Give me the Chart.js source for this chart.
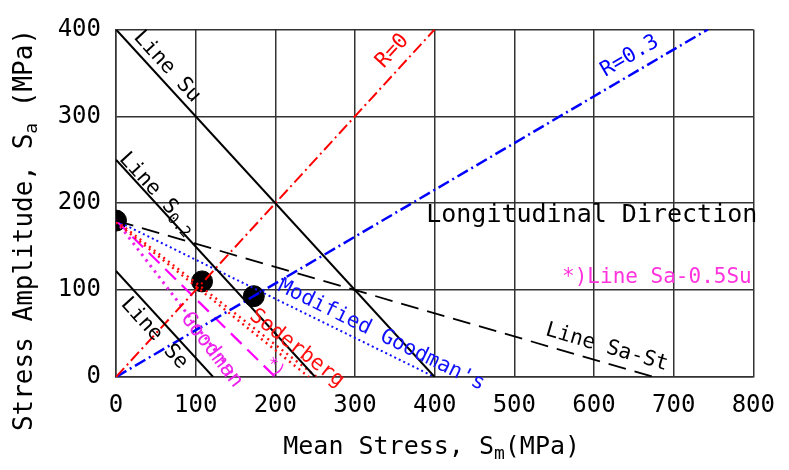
<!DOCTYPE html>
<html>
<head>
<meta charset="utf-8">
<script src="https://cdn.jsdelivr.net/npm/chart.js@4/dist/chart.umd.min.js"></script>
<style>
    html, body { margin: 0; padding: 0; background: #fff; }
</style>
</head>
<body>
<canvas id="goodmanChart" width="789" height="470"></canvas>
<script>
// Mean stress Sm (x) / stress amplitude Sa (y), MPa
const xTicks = [0, 100, 200, 300, 400, 500, 600, 700, 800];
const yTicks = [0, 100, 200, 300, 400];

const lineSu = [{ x: 0, y: 400 }, { x: 400, y: 0 }];
const lineS02 = [{ x: 0, y: 250 }, { x: 250, y: 0 }];
const lineSe = [{ x: 0, y: 122 }, { x: 122, y: 0 }];
const lineR0 = [{ x: 0, y: 0 }, { x: 400, y: 400 }];
const lineR03 = [{ x: 0, y: 0 }, { x: 743, y: 400 }];
const lineSaSt = [{ x: 0, y: 180 }, { x: 675, y: 0 }];
const modGoodman = [{ x: 0, y: 180 }, { x: 400, y: 0 }];
const soderberg = [{ x: 0, y: 180 }, { x: 252, y: 0 }];
const soderberg2 = [{ x: 0, y: 178 }, { x: 242, y: 0 }];
const goodman = [{ x: 0, y: 180 }, { x: 150, y: 0 }];
const lineHalfSu = [{ x: 0, y: 180 }, { x: 200, y: 0 }];
const testPoints = [{ x: 0, y: 180 }, { x: 108, y: 110 }, { x: 173, y: 93 }];

const MONO = '"DejaVu Sans Mono", "Liberation Mono", monospace';

// labels along the lines: text parts, centre in data units, line they follow
const lineLabels = [
    { parts: [['Line Su']], x: 64, y: 357, along: lineSu, color: '#000', size: 21 },
    { parts: [['Line S'], ['0.2', true]], x: 52, y: 211, along: lineS02, color: '#000', size: 21 },
    { parts: [['Line Se']], x: 48, y: 50, along: lineSe, color: '#000', size: 21 },
    { parts: [['R=0']], x: 347, y: 375, along: lineR0, color: '#ff0000', size: 21 },
    { parts: [['R=0.3']], x: 645, y: 369, along: lineR03, color: '#0000ff', size: 21 },
    { parts: [["Modified Goodman's"]], x: 333, y: 48, along: modGoodman, color: '#1010ff', size: 21 },
    { parts: [['Soderberg']], x: 227, y: 33, along: soderberg, color: '#ff1010', size: 21 },
    { parts: [['Goodman']], x: 120, y: 31, along: goodman, color: '#ee22ee', size: 21 },
    { parts: [['*)']], x: 199, y: 11, along: lineHalfSu, color: '#ff22ee', size: 17 },
    { parts: [['Line Sa-St']], x: 616, y: 34, along: lineSaSt, color: '#000', size: 21 }
];

function drawParts(ctx, parts, size, align) {
    const widths = parts.map(([t, sub]) => {
        ctx.font = (sub ? Math.round(size * 0.7) : size) + 'px ' + MONO;
        return ctx.measureText(t).width;
    });
    const total = widths.reduce((a, b) => a + b, 0);
    let cx = align === 'right' ? -total : -total / 2;
    parts.forEach(([t, sub], i) => {
        ctx.font = (sub ? Math.round(size * 0.7) : size) + 'px ' + MONO;
        ctx.fillText(t, cx, sub ? size * 0.3 : 0);
        cx += widths[i];
    });
}

const textPlugin = {
    id: 'textPlugin',
    afterDatasetsDraw(chart) {
        const { ctx, scales: { x, y } } = chart;
        ctx.save();
        ctx.textBaseline = 'middle';
        ctx.textAlign = 'left';
        lineLabels.forEach(l => {
            const a = l.along;
            const ang = Math.atan2(y.getPixelForValue(a[1].y) - y.getPixelForValue(a[0].y),
                                   x.getPixelForValue(a[1].x) - x.getPixelForValue(a[0].x));
            ctx.save();
            ctx.translate(x.getPixelForValue(l.x), y.getPixelForValue(l.y));
            ctx.rotate(ang);
            ctx.fillStyle = l.color;
            drawParts(ctx, l.parts, l.size, 'center');
            ctx.restore();
        });

        // plain horizontal notes
        ctx.save();
        ctx.fillStyle = '#000';
        ctx.translate(x.getPixelForValue(805), y.getPixelForValue(186));
        drawParts(ctx, [['Longitudinal Direction']], 25, 'right');
        ctx.restore();
        ctx.save();
        ctx.fillStyle = '#ff33dd';
        ctx.translate(x.getPixelForValue(798), y.getPixelForValue(114));
        drawParts(ctx, [['*)Line Sa-0.5Su']], 21, 'right');
        ctx.restore();

        // axis titles
        ctx.fillStyle = '#000';
        ctx.save();
        ctx.translate((x.left + x.right) / 2 - 3, 447);
        drawParts(ctx, [['Mean Stress, S'], ['m', true], ['(MPa)']], 25, 'center');
        ctx.restore();
        ctx.save();
        ctx.translate(25, 230);
        ctx.rotate(-Math.PI / 2);
        drawParts(ctx, [['Stress Amplitude, S'], ['a', true], [' (MPa)']], 26, 'center');
        ctx.restore();
        ctx.restore();
    }
};

function lineSet(data, color, width, dash) {
    return {
        data: data,
        showLine: true,
        borderColor: color,
        borderWidth: width,
        borderDash: dash,
        pointRadius: 0,
        fill: false
    };
}

const ctx = document.getElementById('goodmanChart').getContext('2d');

new Chart(ctx, {
    type: 'scatter',
    data: {
        datasets: [
            lineSet(lineSu, '#000', 2, []),
            lineSet(lineS02, '#000', 2, []),
            lineSet(lineSe, '#000', 2, []),
            lineSet(lineR0, '#ff0000', 2, [12, 4, 2, 4]),
            lineSet(lineR03, '#0000ff', 2.5, [12, 4, 2, 4]),
            lineSet(lineSaSt, '#000', 1.8, [18, 9]),
            lineSet(modGoodman, '#1010ff', 2, [2, 3]),
            lineSet(soderberg, '#ff1010', 2.4, [2, 4]),
            lineSet(soderberg2, '#ff1010', 2.4, [2, 4]),
            lineSet(goodman, '#ee22ee', 3, [2.5, 4.5]),
            lineSet(lineHalfSu, '#ff00ff', 2.2, [15, 8]),
            {
                data: testPoints,
                backgroundColor: '#000',
                borderColor: '#000',
                pointRadius: 10.5,
                pointHoverRadius: 10.5
            }
        ]
    },
    options: {
        responsive: false,
        animation: false,
        layout: {
            padding: { left: 0, top: 25, right: 26, bottom: 0 }
        },
        scales: {
            x: {
                type: 'linear',
                min: 0,
                max: 800,
                afterBuildTicks: s => { s.ticks = xTicks.map(v => ({ value: v })); },
                afterFit: s => { s.height = 93; },
                grid: { color: '#333', lineWidth: 1.5, drawTicks: false },
                border: { color: '#333', width: 1.5 },
                ticks: { color: '#000', padding: 14, font: { family: MONO, size: 24 } }
            },
            y: {
                type: 'linear',
                min: 0,
                max: 400,
                afterBuildTicks: s => { s.ticks = yTicks.map(v => ({ value: v })); },
                afterFit: s => { s.width = 116; },
                grid: { color: '#333', lineWidth: 1.5, drawTicks: false },
                border: { color: '#333', width: 1.5 },
                ticks: { color: '#000', padding: 15, font: { family: MONO, size: 24 } }
            }
        },
        plugins: {
            legend: { display: false },
            tooltip: { enabled: false }
        }
    },
    plugins: [textPlugin]
});
</script>
</body>
</html>
